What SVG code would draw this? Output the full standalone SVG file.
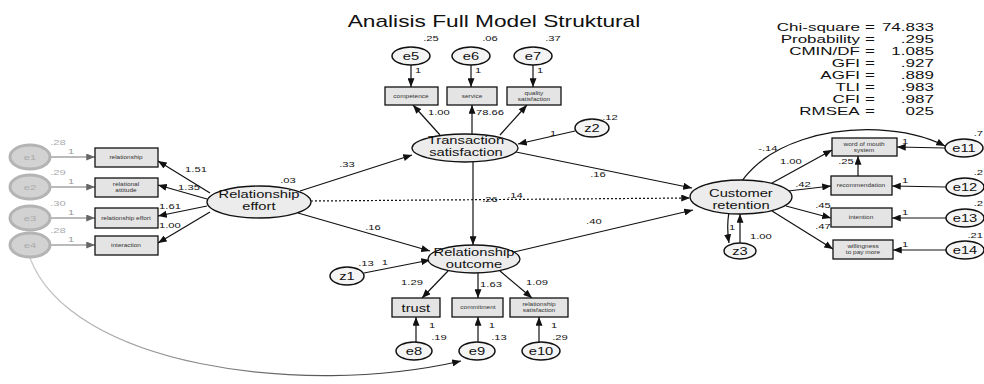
<svg xmlns="http://www.w3.org/2000/svg" width="984" height="384" viewBox="0 0 984 384">
<defs>
<marker id="ah" viewBox="0 0 10 8" refX="10" refY="4" markerWidth="9" markerHeight="7" markerUnits="userSpaceOnUse" orient="auto-start-reverse"><path d="M0,0 L10,4 L0,8 z" fill="#111"/></marker>
<marker id="ahg" viewBox="0 0 10 8" refX="10" refY="4" markerWidth="9" markerHeight="7" markerUnits="userSpaceOnUse" orient="auto"><path d="M0,0 L10,4 L0,8 z" fill="#666"/></marker>
<linearGradient id="fadeg" x1="0" y1="0" x2="1" y2="0"><stop offset="0" stop-color="#c8c8c8"/><stop offset="0.5" stop-color="#777"/><stop offset="1" stop-color="#222"/></linearGradient>
</defs>
<style>
text{font-family:"Liberation Sans",Arial,sans-serif;fill:#111;transform-box:fill-box;transform-origin:center;transform:scaleX(1.45)}
.title{font-size:16px;text-anchor:middle;transform:scaleX(1.42)}
.n{font-size:10.5px;text-anchor:middle;transform:scaleX(1.4)}
.s{font-size:8px;text-anchor:middle;transform:scaleX(1.4)}
.se{font-size:8px;text-anchor:end;transform-origin:right center;transform:scaleX(1.4)}
.b{font-size:5px;text-anchor:middle;fill:#333;transform:scaleX(1.3)}
.fl{font-size:10px;text-anchor:end;transform-origin:right center;transform:scaleX(1.7)}
.fe{font-size:10px;text-anchor:middle;transform:scaleX(1.7)}
.lat ellipse{fill:#ececec;stroke:#111;stroke-width:1.3}
.err ellipse{fill:#f4f4f4;stroke:#111;stroke-width:1.5}
.obs rect{fill:#e4e4e4;stroke:#111;stroke-width:1.3}
.fade ellipse{fill:#d2d2d2;stroke:#b4b4b4;stroke-width:3}
.fade rect{fill:#ededed;stroke:#999;stroke-width:1.3}
.fade text{fill:#aaa}
.conn line,.conn path{stroke:#111;stroke-width:1.2;fill:none;marker-end:url(#ah)}
.conn .dot{stroke-dasharray:2 2}
.conn .g{stroke:#777;marker-end:url(#ahg)}
</style>
<rect width="984" height="384" fill="#fff"/>

<text class="title" x="494" y="27">Analisis Full Model Struktural</text>

<g id="fit">
<text class="fl" x="860" y="31">Chi-square</text><text class="fe" x="870" y="31">=</text><text class="fl" x="934" y="31">74.833</text>
<text class="fl" x="860" y="43">Probability</text><text class="fe" x="870" y="43">=</text><text class="fl" x="934" y="43">.295</text>
<text class="fl" x="860" y="55">CMIN/DF</text><text class="fe" x="870" y="55">=</text><text class="fl" x="934" y="55">1.085</text>
<text class="fl" x="860" y="67">GFI</text><text class="fe" x="870" y="67">=</text><text class="fl" x="934" y="67">.927</text>
<text class="fl" x="860" y="79">AGFI</text><text class="fe" x="870" y="79">=</text><text class="fl" x="934" y="79">.889</text>
<text class="fl" x="860" y="91">TLI</text><text class="fe" x="870" y="91">=</text><text class="fl" x="934" y="91">.983</text>
<text class="fl" x="860" y="103">CFI</text><text class="fe" x="870" y="103">=</text><text class="fl" x="934" y="103">.987</text>
<text class="fl" x="860" y="115">RMSEA</text><text class="fe" x="870" y="115">=</text><text class="fl" x="934" y="115">025</text>
</g>

<g class="conn" id="connectors">
<line class="g" x1="50" y1="157" x2="95" y2="157"/>
<line class="g" x1="50" y1="187" x2="95" y2="187"/>
<line class="g" x1="50" y1="218" x2="95" y2="218"/>
<line class="g" x1="50" y1="245" x2="95" y2="245"/>
<line x1="210" y1="193" x2="158" y2="161"/>
<line x1="207" y1="199" x2="158" y2="185"/>
<line x1="207" y1="206" x2="158" y2="216"/>
<line x1="210" y1="212" x2="158" y2="243"/>
<line x1="411" y1="65" x2="411" y2="87"/>
<line x1="471" y1="65" x2="471" y2="87"/>
<line x1="533" y1="65" x2="533" y2="87"/>
<line x1="440" y1="135" x2="413" y2="105"/>
<line x1="472" y1="134" x2="472" y2="105"/>
<line x1="500" y1="135" x2="527" y2="105"/>
<line x1="575" y1="131" x2="518" y2="144"/>
<line x1="300" y1="191" x2="412" y2="155"/>
<line x1="298" y1="213" x2="430" y2="251"/>
<line class="dot" x1="311" y1="201" x2="690" y2="198"/>
<line x1="473" y1="162" x2="473" y2="245"/>
<line x1="516" y1="152" x2="692" y2="188"/>
<line x1="514" y1="252" x2="693" y2="210"/>
<line x1="364" y1="273" x2="430" y2="260"/>
<line x1="448" y1="271" x2="422" y2="298"/>
<line x1="478" y1="273" x2="478" y2="298"/>
<line x1="500" y1="271" x2="532" y2="298"/>
<line x1="416" y1="342" x2="416" y2="317"/>
<line x1="478" y1="342" x2="478" y2="317"/>
<line x1="539" y1="342" x2="539" y2="317"/>
<path d="M30,258 C70,365 300,398 461,361" style="stroke:url(#fadeg)"/>
<line x1="772" y1="183" x2="832" y2="150"/>
<line x1="788" y1="191" x2="831" y2="186"/>
<line x1="786" y1="206" x2="831" y2="218"/>
<line x1="772" y1="211" x2="833" y2="249"/>
<line x1="945" y1="148" x2="897" y2="147"/>
<line x1="946" y1="187" x2="892" y2="186"/>
<line x1="946" y1="218" x2="892" y2="218"/>
<line x1="946" y1="250" x2="893" y2="250"/>
<line x1="858" y1="176" x2="858" y2="156"/>
<line x1="740" y1="243" x2="740" y2="214"/>
<path d="M729,243 C712,135 870,108 945,146" style="marker-start:url(#ah)"/>
</g>

<g id="e1" class="fade"><ellipse cx="30" cy="157" rx="20" ry="12"/><text class="s" x="30" y="160">e1</text></g>
<g id="e2" class="fade"><ellipse cx="30" cy="187" rx="20" ry="12"/><text class="s" x="30" y="190">e2</text></g>
<g id="e3" class="fade"><ellipse cx="30" cy="218" rx="20" ry="12"/><text class="s" x="30" y="221">e3</text></g>
<g id="e4" class="fade"><ellipse cx="30" cy="245" rx="20" ry="12"/><text class="s" x="30" y="248">e4</text></g>
<g id="x1" class="obs"><rect x="95" y="148" width="63" height="19"/><text class="b" x="126" y="159">relationship</text></g>
<g id="x2" class="obs"><rect x="95" y="178" width="63" height="19"/><text class="b" x="126" y="186">relational</text><text class="b" x="126" y="192">attitude</text></g>
<g id="x3" class="obs"><rect x="95" y="208" width="63" height="20"/><text class="b" x="126" y="220">relationship effort</text></g>
<g id="x4" class="obs"><rect x="95" y="236" width="63" height="19"/><text class="b" x="126" y="247">interaction</text></g>

<g id="effort" class="lat"><ellipse cx="259" cy="202" rx="52" ry="16"/><text class="n" x="259" y="198">Relationship</text><text class="n" x="259" y="210">effort</text></g>
<g id="trans" class="lat"><ellipse cx="465" cy="148" rx="53" ry="14"/><text class="n" x="466" y="144">Transaction</text><text class="n" x="466" y="156">satisfaction</text></g>
<g id="outcome" class="lat"><ellipse cx="474" cy="259" rx="46" ry="14"/><text class="n" x="474" y="256">Relationship</text><text class="n" x="474" y="268">outcome</text></g>
<g id="retention" class="lat"><ellipse cx="741" cy="197" rx="51" ry="17"/><text class="n" x="741" y="197">Customer</text><text class="n" x="741" y="209">retention</text></g>

<g id="e5" class="err"><ellipse cx="411" cy="56" rx="19" ry="9"/><text class="n" x="411" y="60">e5</text></g>
<g id="e6" class="err"><ellipse cx="471" cy="56" rx="19" ry="9"/><text class="n" x="471" y="60">e6</text></g>
<g id="e7" class="err"><ellipse cx="533" cy="56" rx="19" ry="9"/><text class="n" x="533" y="60">e7</text></g>
<g id="x5" class="obs"><rect x="385" y="87" width="53" height="18"/><text class="b" x="411" y="98">competence</text></g>
<g id="x6" class="obs"><rect x="447" y="87" width="50" height="18"/><text class="b" x="472" y="98">service</text></g>
<g id="x7" class="obs"><rect x="507" y="87" width="54" height="18"/><text class="b" x="534" y="95">quality</text><text class="b" x="534" y="101">satisfaction</text></g>
<g id="z2" class="err"><ellipse cx="592" cy="128" rx="17" ry="9"/><text class="n" x="592" y="132">z2</text></g>
<g id="z1" class="err"><ellipse cx="347" cy="276" rx="17" ry="9"/><text class="n" x="347" y="280">z1</text></g>

<g id="x8" class="obs"><rect x="392" y="298" width="48" height="19"/><text class="n" x="416" y="312">trust</text></g>
<g id="x9" class="obs"><rect x="452" y="298" width="51" height="19"/><text class="b" x="478" y="309">commitment</text></g>
<g id="x10" class="obs"><rect x="510" y="298" width="58" height="19"/><text class="b" x="539" y="306">relationship</text><text class="b" x="539" y="312">satisfaction</text></g>
<g id="e8" class="err"><ellipse cx="414" cy="351" rx="18" ry="9"/><text class="n" x="414" y="355">e8</text></g>
<g id="e9" class="err"><ellipse cx="477" cy="351" rx="18" ry="9"/><text class="n" x="477" y="355">e9</text></g>
<g id="e10" class="err"><ellipse cx="541" cy="351" rx="19" ry="9"/><text class="n" x="541" y="355">e10</text></g>

<g id="x11" class="obs"><rect x="832" y="138" width="65" height="18"/><text class="b" x="864" y="146">word of mouth</text><text class="b" x="864" y="152">system</text></g>
<g id="x12" class="obs"><rect x="831" y="176" width="61" height="19"/><text class="b" x="861" y="187">recommendation</text></g>
<g id="x13" class="obs"><rect x="831" y="208" width="61" height="19"/><text class="b" x="861" y="219">intention</text></g>
<g id="x14" class="obs"><rect x="833" y="240" width="60" height="19"/><text class="b" x="863" y="248">willingness</text><text class="b" x="863" y="254">to pay more</text></g>
<g id="e11" class="err"><ellipse cx="964" cy="148" rx="19" ry="9"/><text class="n" x="964" y="152">e11</text></g>
<g id="e12" class="err"><ellipse cx="965" cy="187" rx="19" ry="9"/><text class="n" x="965" y="191">e12</text></g>
<g id="e13" class="err"><ellipse cx="965" cy="218" rx="19" ry="9"/><text class="n" x="965" y="222">e13</text></g>
<g id="e14" class="err"><ellipse cx="965" cy="250" rx="19" ry="9"/><text class="n" x="965" y="254">e14</text></g>
<g id="z3" class="err"><ellipse cx="740" cy="251" rx="16" ry="8"/><text class="n" x="740" y="255">z3</text></g>

<g id="labels">
<text class="s" x="58" y="145" style="fill:#aaa">.28</text>
<text class="s" x="58" y="175" style="fill:#aaa">.29</text>
<text class="s" x="58" y="206" style="fill:#aaa">.30</text>
<text class="s" x="58" y="233" style="fill:#aaa">.28</text>
<text class="s" x="71" y="154" style="fill:#999">1</text>
<text class="s" x="71" y="184" style="fill:#999">1</text>
<text class="s" x="71" y="215" style="fill:#999">1</text>
<text class="s" x="71" y="242" style="fill:#999">1</text>
<text class="s" x="196" y="172">1.51</text>
<text class="s" x="189" y="190">1.35</text>
<text class="s" x="170" y="209">1.61</text>
<text class="s" x="170" y="228">1.00</text>
<text class="s" x="431" y="41">.25</text>
<text class="s" x="490" y="41">.06</text>
<text class="s" x="553" y="41">.37</text>
<text class="s" x="418" y="73">1</text>
<text class="s" x="478" y="73">1</text>
<text class="s" x="540" y="73">1</text>
<text class="s" x="439" y="115">1.00</text>
<text class="s" x="490" y="115">78.66</text>
<text class="s" x="610" y="120">.12</text>
<text class="s" x="553" y="136">1</text>
<text class="s" x="288" y="183">.03</text>
<text class="s" x="347" y="167">.33</text>
<text class="s" x="490" y="202">.26</text>
<text class="s" x="515" y="198">.14</text>
<text class="s" x="373" y="230">.16</text>
<text class="s" x="598" y="177">.16</text>
<text class="s" x="594" y="224">.40</text>
<text class="s" x="366" y="266">.13</text>
<text class="s" x="385" y="265">1</text>
<text class="s" x="412" y="285">1.29</text>
<text class="s" x="491" y="287">1.63</text>
<text class="s" x="537" y="285">1.09</text>
<text class="s" x="432" y="328">1</text>
<text class="s" x="439" y="340">.19</text>
<text class="s" x="492" y="328">1</text>
<text class="s" x="499" y="340">.13</text>
<text class="s" x="554" y="328">1</text>
<text class="s" x="560" y="340">.29</text>
<text class="s" x="768" y="151">-.14</text>
<text class="s" x="791" y="164">1.00</text>
<text class="s" x="846" y="164">.25</text>
<text class="s" x="803" y="187">.42</text>
<text class="s" x="823" y="208">.45</text>
<text class="s" x="823" y="229">.47</text>
<text class="s" x="732" y="230">1</text>
<text class="s" x="761" y="239">1.00</text>
<text class="s" x="905" y="144">1</text>
<text class="s" x="905" y="183">1</text>
<text class="s" x="905" y="215">1</text>
<text class="s" x="905" y="247">1</text>
<text class="se" x="983" y="136">.7</text>
<text class="se" x="983" y="175">.2</text>
<text class="se" x="983" y="206">.2</text>
<text class="se" x="983" y="238">.21</text>
</g>
</svg>
